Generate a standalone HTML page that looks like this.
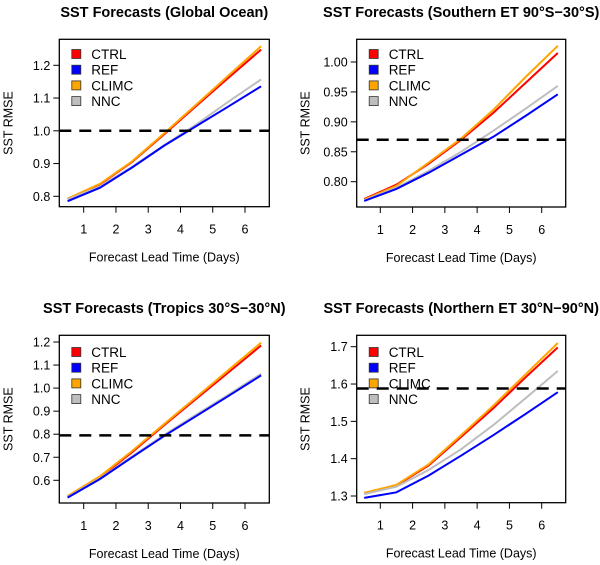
<!DOCTYPE html>
<html><head><meta charset="utf-8"><style>
body{margin:0;background:#fff}
svg{display:block;font-family:"Liberation Sans",sans-serif}
</style></head><body>
<svg id="fig" width="600" height="565" viewBox="0 0 600 565" xmlns="http://www.w3.org/2000/svg"></svg>
<script>
const days=[0.5,1.5,2.5,3.5,4.5,5.5,6.5];
const xTicks=[1,2,3,4,5,6];
const seriesNames=["CTRL","REF","CLIMC","NNC"];
const seriesColors=["#ff0000","#0000ff","#ffa500","#bebebe"];
// Global Ocean
const globalCTRL=[0.792,0.836,0.905,0.990,1.077,1.163,1.248];
const globalREF=[0.785,0.826,0.888,0.955,1.015,1.075,1.136];
const globalCLIMC=[0.793,0.838,0.907,0.993,1.081,1.170,1.258];
const globalNNC=[0.790,0.830,0.890,0.957,1.020,1.090,1.157];
const globalTicks=[0.8,0.9,1.0,1.1,1.2];
const globalRef=1.0;
// Southern ET
const southCTRL=[0.771,0.795,0.830,0.870,0.915,0.965,1.015];
const southREF=[0.768,0.788,0.815,0.845,0.875,0.910,0.946];
const southCLIMC=[0.770,0.793,0.832,0.872,0.920,0.975,1.027];
const southNNC=[0.769,0.790,0.818,0.850,0.885,0.922,0.960];
const southTicks=["0.80","0.85","0.90","0.95","1.00"];
const southRef=0.87;
// Tropics
const tropCTRL=[0.530,0.612,0.722,0.840,0.955,1.070,1.185];
const tropREF=[0.525,0.605,0.700,0.793,0.880,0.967,1.055];
const tropCLIMC=[0.532,0.617,0.727,0.845,0.962,1.080,1.197];
const tropNNC=[0.528,0.608,0.704,0.798,0.886,0.973,1.062];
const tropTicks=[0.6,0.7,0.8,0.9,1.0,1.1,1.2];
const tropRef=0.795;
// Northern ET
const northCTRL=[1.308,1.328,1.382,1.458,1.535,1.618,1.698];
const northREF=[1.295,1.310,1.355,1.408,1.463,1.520,1.578];
const northCLIMC=[1.308,1.330,1.385,1.463,1.542,1.626,1.710];
const northNNC=[1.305,1.325,1.370,1.425,1.490,1.562,1.635];
const northTicks=[1.3,1.4,1.5,1.6,1.7];
const northRef=1.588;

const NS="http://www.w3.org/2000/svg";
const svg=document.getElementById('fig');
function mk(tag,attrs,parent){const e=document.createElementNS(NS,tag);for(const k in attrs)e.setAttribute(k,attrs[k]);(parent||svg).appendChild(e);return e;}

const panels=[
 {key:"global",title:"SST Forecasts (Global Ocean)",box:[59.3,39.3,269.3,206.7],x1:83.7,x6:245,yA:[0.8,196.3],yB:[1.2,65.3],ticks:globalTicks,ref:globalRef,data:[globalCTRL,globalREF,globalCLIMC,globalNNC],ty:12,ly:54},
 {key:"south",title:"SST Forecasts (Southern ET 90°S\u221230°S)",box:[356.7,39.3,565.7,207],x1:380.3,x6:541.7,yA:[0.8,181.7],yB:[1.0,62],ticks:southTicks,ref:southRef,data:[southCTRL,southREF,southCLIMC,southNNC],ty:12,ly:54},
 {key:"tropics",title:"SST Forecasts (Tropics 30°S\u221230°N)",box:[59.3,335.3,269.3,503],x1:83.7,x6:245,yA:[0.6,480.3],yB:[1.2,342],ticks:tropTicks,ref:tropRef,data:[tropCTRL,tropREF,tropCLIMC,tropNNC],ty:308,ly:352},
 {key:"north",title:"SST Forecasts (Northern ET 30°N\u221290°N)",box:[356.7,335.3,565.7,502.7],x1:380.3,x6:541.7,yA:[1.3,496],yB:[1.7,346.7],ticks:northTicks,ref:northRef,data:[northCTRL,northREF,northCLIMC,northNNC],ty:308,ly:352}
];

panels.forEach(p=>{
 const g=mk('g',{});
 
 
 const [L,T,R,B]=p.box;
 const xs=d=>p.x1+(d-1)*(p.x6-p.x1)/5;
 const ys=v=>p.yA[1]+(v-p.yA[0])*(p.yB[1]-p.yA[1])/(p.yB[0]-p.yA[0]);
 const cx=(L+R)/2;
 const t=mk('text',{x:cx,y:p.ty+5,'text-anchor':'middle','font-size':'14.5','font-weight':'bold'},g);t.textContent=p.title;
 
 const order=[0,2,3,1];
 order.forEach(i=>{
  const pts=days.map((d,j)=>xs(d).toFixed(1)+','+ys(p.data[i][j]).toFixed(1)).join(' ');
  const l=mk('polyline',{points:pts,fill:'none',stroke:seriesColors[i],'stroke-width':'2'},g);
  
  
 });
 seriesNames.forEach((n,i)=>{
  const yy=p.ly+i*15.7;
  const r=mk('rect',{x:L+12.5,y:yy-4.5,width:9,height:9,fill:seriesColors[i],stroke:'#333','stroke-width':'0.8'},g);
  
  
  const tx=mk('text',{x:L+32,y:yy+5,'font-size':'13.5'},g);tx.textContent=n;
  
  
 });
 const dl=mk('line',{x1:L,x2:R,y1:ys(p.ref),y2:ys(p.ref),stroke:'#000','stroke-width':'2.5','stroke-dasharray':'12 8'},g);
 
 
 const bx=mk('rect',{x:L,y:T,width:R-L,height:B-T,fill:'none',stroke:'#000','stroke-width':'1.3'},g);
 
 
 xTicks.forEach(d=>{
  mk('line',{x1:xs(d),x2:xs(d),y1:B,y2:B+6,stroke:'#000','stroke-width':'1'},g);
  const lt=mk('text',{x:xs(d),y:B+27,'text-anchor':'middle','font-size':'12.5'},g);lt.textContent=d;
  
  
 });
 p.ticks.forEach(v=>{
  const yy=ys(parseFloat(v));
  mk('line',{x1:L-6,x2:L,y1:yy,y2:yy,stroke:'#000','stroke-width':'1'},g);
  const lt=mk('text',{x:L-9,y:yy+4.5,'text-anchor':'end','font-size':'12.5'},g);
  lt.textContent=typeof v==='number'?v.toFixed(1):v;
  
  
 });
 const xl=mk('text',{x:cx,y:B+55,'text-anchor':'middle','font-size':'12.5'},g);xl.textContent="Forecast Lead Time (Days)";
 
 const yx=L-47,yy=(T+B)/2;
 const yl=mk('text',{x:yx,y:yy,'text-anchor':'middle','font-size':'12.5',transform:`rotate(-90 ${yx} ${yy})`},g);yl.textContent="SST RMSE";
 
});
</script>
</body></html>
